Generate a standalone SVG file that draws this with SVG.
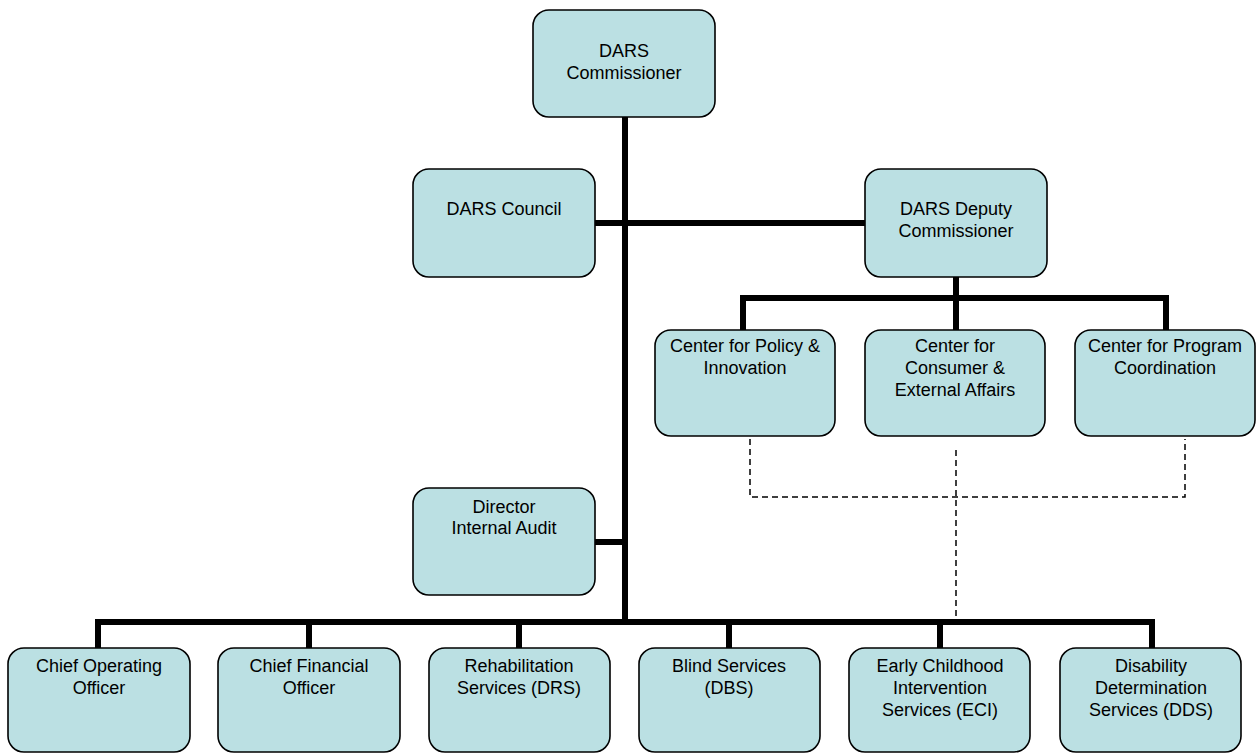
<svg xmlns="http://www.w3.org/2000/svg" width="1256" height="754" viewBox="0 0 1256 754">
<style>
.box{fill:#bbe0e3;stroke:#000;stroke-width:1.6}
.t{font-family:"Liberation Sans",Arial,sans-serif;font-size:18px;fill:#000;text-anchor:middle}
.solid{stroke:#000;stroke-width:6;fill:none}
.dash{stroke:#000;stroke-width:1.5;fill:none;stroke-dasharray:6,4}
</style>
<rect width="1256" height="754" fill="#fff"/>
<g id="connectors">
<path class="solid" d="M625 117V625"/>
<path class="solid" d="M595 223H865"/>
<path class="solid" d="M595 542H625"/>
<path class="solid" d="M956 277V301M743 330V298H1166V330M956 298V330"/>
<path class="solid" d="M98 648V622H1152V648M309 622V648M519 622V648M729 622V648M940 622V648"/>
<path class="dash" d="M750 439V497H1185V439M956 450V622"/>
</g>
<g id="commissioner"><rect class="box" x="533" y="10" width="182" height="107" rx="16"/><text class="t" x="624" y="57">DARS</text><text class="t" x="624" y="79">Commissioner</text></g>
<g id="council"><rect class="box" x="413" y="169" width="182" height="108" rx="16"/><text class="t" x="504" y="215">DARS Council</text></g>
<g id="deputy"><rect class="box" x="865" y="169" width="182" height="108" rx="16"/><text class="t" x="956" y="215">DARS Deputy</text><text class="t" x="956" y="237">Commissioner</text></g>
<g id="policy"><rect class="box" x="655" y="330" width="180" height="106" rx="16"/><text class="t" x="745" y="352">Center for Policy &amp;</text><text class="t" x="745" y="374">Innovation</text></g>
<g id="consumer"><rect class="box" x="865" y="330" width="180" height="106" rx="16"/><text class="t" x="955" y="352">Center for</text><text class="t" x="955" y="374">Consumer &amp;</text><text class="t" x="955" y="396">External Affairs</text></g>
<g id="program"><rect class="box" x="1075" y="330" width="180" height="106" rx="16"/><text class="t" x="1165" y="352">Center for Program</text><text class="t" x="1165" y="374">Coordination</text></g>
<g id="audit"><rect class="box" x="413" y="488" width="182" height="107" rx="16"/><text class="t" x="504" y="513">Director</text><text class="t" x="504" y="534">Internal Audit</text></g>
<g id="coo"><rect class="box" x="8" y="648" width="182" height="104" rx="16"/><text class="t" x="99" y="672">Chief Operating</text><text class="t" x="99" y="694">Officer</text></g>
<g id="cfo"><rect class="box" x="218" y="648" width="182" height="104" rx="16"/><text class="t" x="309" y="672">Chief Financial</text><text class="t" x="309" y="694">Officer</text></g>
<g id="drs"><rect class="box" x="429" y="648" width="181" height="104" rx="16"/><text class="t" x="519" y="672">Rehabilitation</text><text class="t" x="519" y="694">Services (DRS)</text></g>
<g id="dbs"><rect class="box" x="639" y="648" width="181" height="104" rx="16"/><text class="t" x="729" y="672">Blind Services</text><text class="t" x="729" y="694">(DBS)</text></g>
<g id="eci"><rect class="box" x="849" y="648" width="181" height="104" rx="16"/><text class="t" x="940" y="672">Early Childhood</text><text class="t" x="940" y="694">Intervention</text><text class="t" x="940" y="716">Services (ECI)</text></g>
<g id="dds"><rect class="box" x="1060" y="648" width="181" height="104" rx="16"/><text class="t" x="1151" y="672">Disability</text><text class="t" x="1151" y="694">Determination</text><text class="t" x="1151" y="716">Services (DDS)</text></g>
</svg>
